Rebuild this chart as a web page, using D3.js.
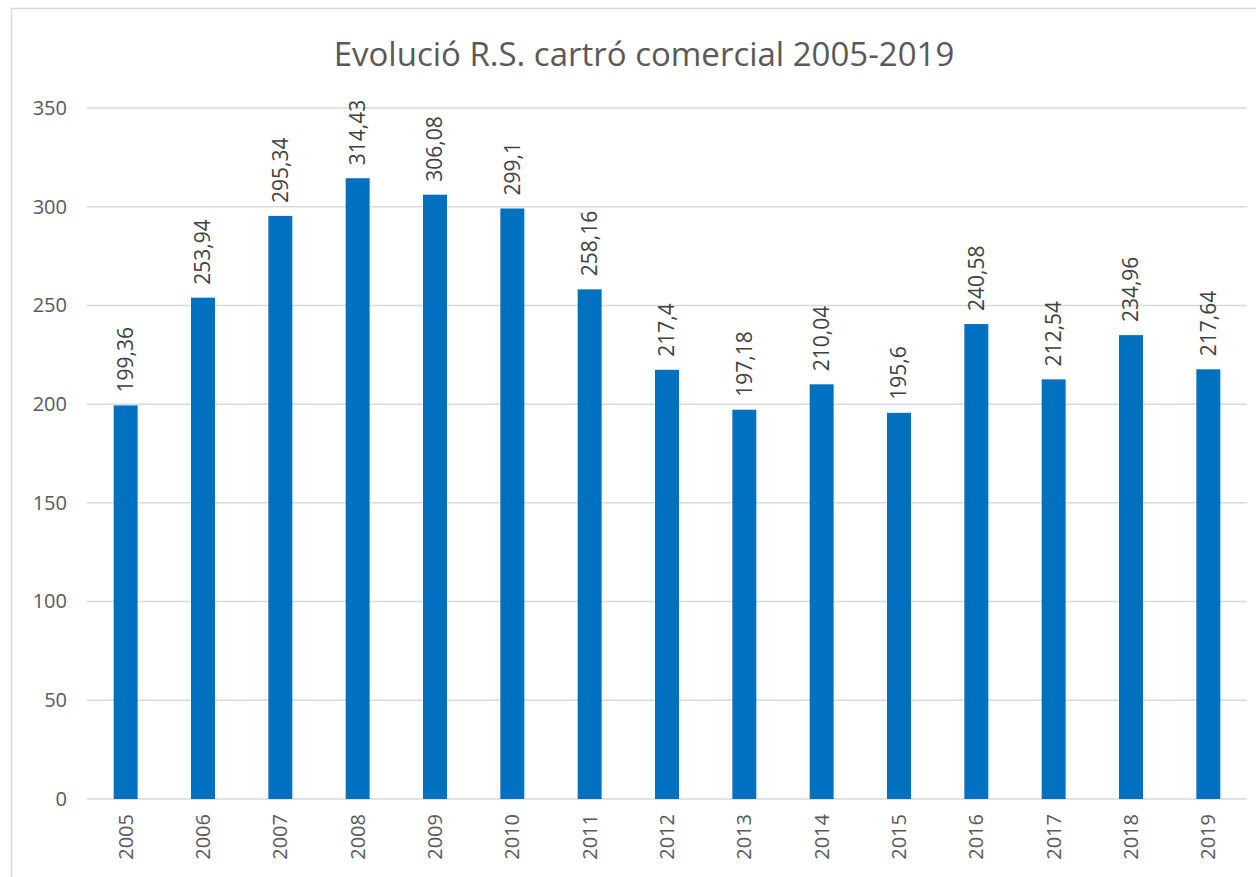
<!DOCTYPE html>
<html><head><meta charset="utf-8">
<script src="https://cdn.jsdelivr.net/npm/d3@7"></script>
<style>body{margin:0;background:#fff;} svg{display:block;}</style>
</head><body>
<script>
const years = ["2005","2006","2007","2008","2009","2010","2011","2012","2013","2014","2015","2016","2017","2018","2019"];
const values = [199.36,253.94,295.34,314.43,306.08,299.1,258.16,217.4,197.18,210.04,195.6,240.58,212.54,234.96,217.64];
const yTicks = [0,50,100,150,200,250,300,350];
const title = "Evolució R.S. cartró comercial 2005-2019";

const W=1256,H=877;
const svg=d3.select("body").append("svg").attr("width",W).attr("height",H);
const font="'Open Sans', sans-serif";
svg.append("rect").attr("x",11.5).attr("y",8.5).attr("width",1300).attr("height",1000)
  .attr("fill","#fff").attr("stroke","#d9d9d9").attr("stroke-width",1.5);

const x=d3.scaleBand().domain(years).range([87,1247]).paddingInner(0.69).paddingOuter(0.345);
const y=d3.scaleLinear().domain([0,350]).range([799,108]);

const g=svg.append("g");
g.selectAll("line.grid").data(yTicks).join("line").attr("class","grid")
  .attr("x1",87).attr("x2",1247).attr("y1",d=>y(d)).attr("y2",d=>y(d))
  .attr("stroke","#d9d9d9").attr("stroke-width",1.5);

const yAxis=d3.axisLeft(y).tickValues(yTicks).tickSize(0).tickPadding(0).tickFormat(d3.format("d"));
const ya=svg.append("g").attr("transform","translate(67,0)").call(yAxis);
ya.select(".domain").remove();
ya.selectAll("text").attr("font-family",font).attr("font-size",20).attr("fill","#595959");

g.selectAll("rect.bar").data(values).join("rect").attr("class","bar")
  .attr("x",(d,i)=>x(years[i])).attr("width",x.bandwidth())
  .attr("y",d=>y(d)).attr("height",d=>y(0)-y(d)).attr("fill","#0070C0");

g.selectAll("text.lbl").data(values).join("text").attr("class","lbl")
  .attr("transform",(d,i)=>`translate(${x(years[i])+x.bandwidth()/2},${y(d)-13}) rotate(-90)`)
  .attr("dy","0.35em")
  .attr("font-family",font).attr("font-size",21).attr("fill","#404040")
  .text(d=>String(d).replace(".",","));

const xAxis=d3.axisBottom(x).tickSize(0).tickPadding(0);
const xa=svg.append("g").attr("transform","translate(0,799)").call(xAxis);
xa.select(".domain").remove();
xa.selectAll("text").attr("font-family",font).attr("font-size",20).attr("fill","#595959")
  .attr("text-anchor","end").attr("dy","0.35em").attr("y",0)
  .attr("transform","translate(0,15) rotate(-90)");

svg.append("text").attr("x",644).attr("y",66).attr("text-anchor","middle")
  .attr("font-family",font).attr("font-size",33).attr("fill","#595959").text(title);
</script>
</body></html>
